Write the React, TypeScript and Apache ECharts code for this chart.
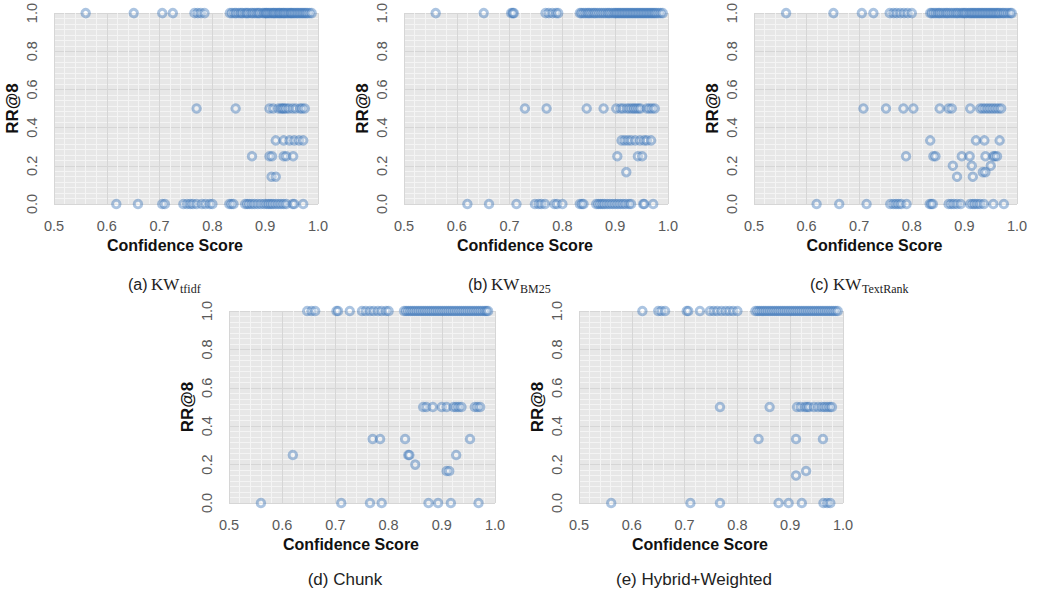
import React, { useEffect, useRef } from "react";
import * as echarts from "echarts";

// ---------- data (RR@8 vs confidence score) ----------
const RR = { r1: 1, r05: 0.5, r033: 0.333, r025: 0.25, r02: 0.2, r0167: 0.167, r0143: 0.143, r0: 0 };

// (a) KW tfidf
const A_r1 = [0.56, 0.651, 0.705, 0.725, 0.766, 0.772, 0.778, 0.785, 0.833, 0.837, 0.842, 0.845, 0.85, 0.854, 0.857, 0.862, 0.865, 0.868, 0.873, 0.876, 0.88, 0.884, 0.887, 0.89, 0.895, 0.898, 0.901, 0.903, 0.906, 0.909, 0.912, 0.915, 0.917, 0.92, 0.923, 0.926, 0.928, 0.931, 0.934, 0.936, 0.939, 0.942, 0.945, 0.948, 0.95, 0.953, 0.956, 0.959, 0.962, 0.965, 0.968, 0.971, 0.974, 0.977, 0.98, 0.984, 0.988];
const A_r05 = [0.77, 0.844, 0.908, 0.915, 0.925, 0.93, 0.933, 0.936, 0.94, 0.945, 0.952, 0.958, 0.966, 0.97, 0.975];
const A_r033 = [0.92, 0.935, 0.946, 0.955, 0.964, 0.972];
const A_r025 = [0.875, 0.908, 0.913, 0.935, 0.94, 0.953];
const A_r0143 = [0.912, 0.92];
const A_r0 = [0.618, 0.659, 0.705, 0.71, 0.745, 0.752, 0.758, 0.763, 0.77, 0.78, 0.787, 0.795, 0.8, 0.832, 0.836, 0.84, 0.862, 0.866, 0.87, 0.875, 0.88, 0.886, 0.892, 0.898, 0.903, 0.907, 0.911, 0.915, 0.92, 0.925, 0.93, 0.935, 0.94, 0.952, 0.955, 0.972];

// (b) KW BM25
const B_r1 = [0.56, 0.651, 0.703, 0.706, 0.708, 0.768, 0.774, 0.781, 0.788, 0.792, 0.833, 0.836, 0.84, 0.844, 0.848, 0.851, 0.855, 0.859, 0.862, 0.866, 0.87, 0.874, 0.878, 0.882, 0.886, 0.889, 0.893, 0.897, 0.9, 0.903, 0.906, 0.909, 0.912, 0.915, 0.918, 0.921, 0.924, 0.927, 0.93, 0.933, 0.936, 0.939, 0.942, 0.945, 0.948, 0.951, 0.954, 0.957, 0.96, 0.963, 0.966, 0.969, 0.972, 0.975, 0.978, 0.982, 0.986, 0.99];
const B_r05 = [0.729, 0.77, 0.846, 0.878, 0.902, 0.91, 0.915, 0.922, 0.927, 0.932, 0.936, 0.94, 0.944, 0.948, 0.96, 0.965, 0.97, 0.975];
const B_r033 = [0.912, 0.918, 0.924, 0.93, 0.938, 0.947, 0.955, 0.96, 0.968];
const B_r025 = [0.904, 0.943, 0.951];
const B_r0167 = [0.921];
const B_r0 = [0.62, 0.661, 0.713, 0.748, 0.755, 0.76, 0.767, 0.785, 0.79, 0.8, 0.833, 0.837, 0.84, 0.864, 0.868, 0.872, 0.876, 0.88, 0.885, 0.89, 0.895, 0.9, 0.905, 0.91, 0.915, 0.92, 0.926, 0.93, 0.953, 0.955, 0.972];

// (c) KW TextRank
const C_r1 = [0.561, 0.651, 0.705, 0.727, 0.758, 0.765, 0.771, 0.778, 0.785, 0.792, 0.8, 0.835, 0.838, 0.842, 0.846, 0.85, 0.853, 0.857, 0.861, 0.865, 0.868, 0.872, 0.876, 0.88, 0.884, 0.887, 0.891, 0.895, 0.898, 0.901, 0.904, 0.908, 0.911, 0.914, 0.917, 0.92, 0.923, 0.926, 0.929, 0.932, 0.935, 0.938, 0.941, 0.944, 0.947, 0.95, 0.953, 0.956, 0.959, 0.962, 0.965, 0.968, 0.972, 0.975, 0.979, 0.983, 0.987, 0.99];
const C_r05 = [0.708, 0.751, 0.784, 0.803, 0.853, 0.87, 0.876, 0.911, 0.93, 0.935, 0.94, 0.945, 0.95, 0.955, 0.96, 0.965, 0.97];
const C_r033 = [0.835, 0.922, 0.938, 0.967];
const C_r025 = [0.789, 0.841, 0.845, 0.895, 0.91, 0.94, 0.955, 0.958, 0.962];
const C_r02 = [0.878, 0.914, 0.95];
const C_r0167 = [0.935, 0.94];
const C_r0143 = [0.886, 0.916];
const C_r0 = [0.619, 0.662, 0.714, 0.759, 0.765, 0.77, 0.775, 0.78, 0.79, 0.834, 0.837, 0.84, 0.87, 0.875, 0.88, 0.886, 0.893, 0.911, 0.916, 0.92, 0.925, 0.93, 0.937, 0.955, 0.975];

// (d) Chunk
const D_r1 = [0.647, 0.655, 0.662, 0.702, 0.705, 0.727, 0.75, 0.757, 0.765, 0.772, 0.78, 0.787, 0.795, 0.8, 0.829, 0.833, 0.837, 0.841, 0.845, 0.849, 0.853, 0.857, 0.861, 0.865, 0.869, 0.873, 0.877, 0.881, 0.885, 0.889, 0.893, 0.897, 0.901, 0.905, 0.909, 0.913, 0.917, 0.921, 0.925, 0.929, 0.933, 0.937, 0.941, 0.945, 0.949, 0.953, 0.957, 0.961, 0.965, 0.969, 0.973, 0.977, 0.981, 0.984, 0.987];
const D_r05 = [0.865, 0.871, 0.883, 0.9, 0.909, 0.922, 0.927, 0.932, 0.937, 0.962, 0.967, 0.972];
const D_r033 = [0.77, 0.784, 0.831, 0.953];
const D_r025 = [0.62, 0.837, 0.839, 0.927];
const D_r02 = [0.85];
const D_r0167 = [0.909, 0.914];
const D_r0 = [0.56, 0.711, 0.765, 0.787, 0.875, 0.893, 0.917, 0.969];

// (e) Hybrid+Weighted
const E_r1 = [0.62, 0.65, 0.656, 0.663, 0.704, 0.707, 0.729, 0.748, 0.755, 0.762, 0.77, 0.778, 0.785, 0.792, 0.8, 0.834, 0.838, 0.842, 0.846, 0.85, 0.854, 0.858, 0.862, 0.866, 0.87, 0.874, 0.878, 0.882, 0.886, 0.89, 0.894, 0.898, 0.902, 0.906, 0.91, 0.914, 0.918, 0.922, 0.926, 0.93, 0.934, 0.938, 0.942, 0.946, 0.95, 0.954, 0.958, 0.962, 0.966, 0.97, 0.974, 0.978, 0.982, 0.986, 0.99];
const E_r05 = [0.767, 0.861, 0.913, 0.92, 0.928, 0.932, 0.936, 0.945, 0.953, 0.96, 0.965, 0.97, 0.975, 0.979];
const E_r033 = [0.84, 0.911, 0.962];
const E_r0167 = [0.93];
const E_r0143 = [0.911];
const E_r0 = [0.561, 0.711, 0.767, 0.878, 0.897, 0.922, 0.963, 0.97, 0.976];

const X_MIN = 0.5, X_MAX = 1.0, X_STEP = 0.1;
const Y_MIN = 0, Y_MAX = 1.0, Y_STEP = 0.2;
const X_NAME = "Confidence Score";
const Y_NAME = "RR@8";

type Rows = [number[], number][];
const PANELS: { rows: Rows; grid: { left: number; top: number; width: number; height: number } }[] = [
  { rows: [[A_r1, RR.r1], [A_r05, RR.r05], [A_r033, RR.r033], [A_r025, RR.r025], [A_r0143, RR.r0143], [A_r0, RR.r0]], grid: { left: 54, top: 13, width: 264, height: 191 } },
  { rows: [[B_r1, RR.r1], [B_r05, RR.r05], [B_r033, RR.r033], [B_r025, RR.r025], [B_r0167, RR.r0167], [B_r0, RR.r0]], grid: { left: 404, top: 13, width: 264, height: 191 } },
  { rows: [[C_r1, RR.r1], [C_r05, RR.r05], [C_r033, RR.r033], [C_r025, RR.r025], [C_r02, RR.r02], [C_r0167, RR.r0167], [C_r0143, RR.r0143], [C_r0, RR.r0]], grid: { left: 754, top: 13, width: 263, height: 191 } },
  { rows: [[D_r1, RR.r1], [D_r05, RR.r05], [D_r033, RR.r033], [D_r025, RR.r025], [D_r02, RR.r02], [D_r0167, RR.r0167], [D_r0, RR.r0]], grid: { left: 229, top: 311, width: 266, height: 192 } },
  { rows: [[E_r1, RR.r1], [E_r05, RR.r05], [E_r033, RR.r033], [E_r0167, RR.r0167], [E_r0143, RR.r0143], [E_r0, RR.r0]], grid: { left: 579, top: 311, width: 264, height: 192 } },
];

const SANS = '"Liberation Sans", Arial, sans-serif';
const SERIF = '"Liberation Serif", "DejaVu Serif", serif';
const AXIS_FONT = '"Liberation Sans", Arial, sans-serif';

function caption(x: number, y: number, tag: string, sub: string) {
  return [
    { type: "text", x, y, style: { text: tag, font: `16px ${SANS}`, fill: "#222", verticalAlign: "middle" } },
    { type: "text", x: x + 23, y, style: { text: "KW", font: `17px ${SERIF}`, fill: "#222", verticalAlign: "middle" } },
    { type: "text", x: x + 52, y: y + 5, style: { text: sub, font: `12px ${SERIF}`, fill: "#222", verticalAlign: "middle" } },
  ];
}

export default function App() {
  const ref = useRef<HTMLDivElement>(null);
  useEffect(() => {
    if (!ref.current) return;
    const chart = echarts.init(ref.current, undefined, { renderer: "svg" });
    const grids = PANELS.map((p) => ({ ...p.grid, show: true, backgroundColor: "#e7e7e7", borderWidth: 0, containLabel: false }));
    const xAxes = PANELS.map((_, i) => ({
      type: "value", gridIndex: i, min: X_MIN, max: X_MAX, interval: X_STEP,
      name: X_NAME, nameLocation: "middle", nameGap: 33,
      nameTextStyle: { fontFamily: AXIS_FONT, fontWeight: "bold", fontSize: 16, lineHeight: 16, color: "#111", padding: [0, 22, 0, 0] },
      axisLine: { show: false }, axisTick: { show: false },
      axisLabel: { fontFamily: AXIS_FONT, fontSize: 14.5, lineHeight: 14, color: "#595959", margin: 15, formatter: (v: number) => v.toFixed(1) },
      splitLine: { show: true, lineStyle: { color: "#d6d6d6", width: 1 } },
      minorTick: { show: false, splitNumber: 5 },
      minorSplitLine: { show: true, lineStyle: { color: "#f4f4f4", width: 1 } },
    }));
    const yAxes = PANELS.map((_, i) => ({
      type: "value", gridIndex: i, min: Y_MIN, max: Y_MAX, interval: Y_STEP,
      name: Y_NAME, nameLocation: "middle", nameGap: 33, nameRotate: 90,
      nameTextStyle: { fontFamily: AXIS_FONT, fontWeight: "bold", fontSize: 17, lineHeight: 17, color: "#111" },
      axisLine: { show: false }, axisTick: { show: false },
      axisLabel: { fontFamily: AXIS_FONT, fontSize: 14.5, lineHeight: 14, color: "#595959", margin: 15, rotate: 90, formatter: (v: number) => v.toFixed(1) },
      splitLine: { show: true, lineStyle: { color: "#d6d6d6", width: 1 } },
      minorTick: { show: false, splitNumber: 7 },
      minorSplitLine: { show: true, lineStyle: { color: "#f4f4f4", width: 1 } },
    }));
    const series = PANELS.map((p, i) => ({
      type: "scatter", xAxisIndex: i, yAxisIndex: i, clip: false,
      symbol: "circle", symbolSize: 7.5,
      itemStyle: { color: "rgba(255,255,255,0.4)", borderColor: "rgba(46,107,181,0.5)", borderWidth: 3 },
      data: p.rows.flatMap(([xs, y]) => xs.map((x) => [x, y])),
    }));
    chart.setOption({
      animation: false,
      grid: grids,
      xAxis: xAxes,
      yAxis: yAxes,
      series,
      graphic: [
        ...caption(128, 284, "(a)", "tfidf"),
        ...caption(468, 284, "(b)", "BM25"),
        ...caption(810, 284, "(c)", "TextRank"),
        { type: "text", x: 345, y: 579, style: { text: "(d) Chunk", font: `17px ${SANS}`, fill: "#222", align: "center", verticalAlign: "middle" } },
        { type: "text", x: 694, y: 579, style: { text: "(e) Hybrid+Weighted", font: `17px ${SANS}`, fill: "#222", align: "center", verticalAlign: "middle" } },
      ],
    });
    return () => chart.dispose();
  }, []);
  return <div ref={ref} style={{ position: "absolute", left: 0, top: 0, width: 1038, height: 594, background: "#fff" }} />;
}
